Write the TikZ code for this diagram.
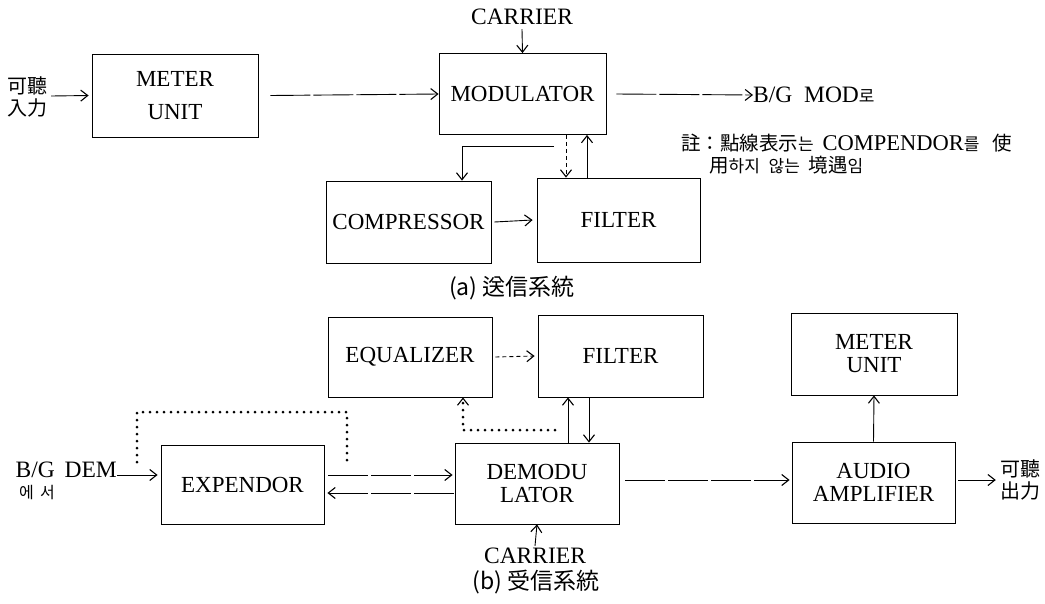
\documentclass[tikz,border=0pt]{standalone}
\usepackage{fontspec}
\setmainfont{Liberation Serif}
\newfontfamily\cjk{Noto Sans CJK KR}
\usetikzlibrary{arrows.meta,calc}
\newcommand\hgsm[1]{{\cjk\fontsize{17}{17}\selectfont #1}}
\tikzset{
 box/.style={draw, line width=0.8pt, inner sep=0pt, font=\fontsize{23}{23}\selectfont, align=center},
 tip/.style={-{Straight Barb[length=7pt,width=11pt,line width=1.1pt]}},
 arr/.style={line width=0.9pt, tip},
 longdash/.style={dash pattern=on 40pt off 3pt},
 shortdash/.style={dash pattern=on 4pt off 3pt},
 dotline/.style={line width=3pt, dash pattern=on 0pt off 7pt, line cap=round},
 lbl/.style={inner sep=0pt, font=\fontsize{23.5}{24}\selectfont},
 cjklbl/.style={inner sep=0pt, font=\cjk\fontsize{20}{22}\selectfont, align=center},
 captxt/.style={inner sep=0pt, font=\cjk\fontsize{23}{24}\selectfont},
}
\begin{document}
\begin{tikzpicture}[x=1pt,y=-1pt]
\useasboundingbox (0,0) rectangle (1045,603);
% ---------- (a) ----------
\node[box, minimum width=166pt, minimum height=83pt] (meter1) at (175,95.5) {METER\\[10pt]UNIT};
\node[box, minimum width=167pt, minimum height=81pt] (mod) at (522.5,94) {MODULATOR};
\node[box, minimum width=165pt, minimum height=82pt] (comp) at (408.5,222) {COMPRESSOR};
\node[box, minimum width=163pt, minimum height=84pt] (filt1) at (618.5,220) {FILTER};
\node[lbl] (car1) at (522,17) {CARRIER};
\node[cjklbl] (inl) at (28,97) {可聽\\入力};
\node[lbl, anchor=west] (bgmod) at (753,95) {B/G\ \ MOD\hgsm{로}};
\node[inner sep=0pt, anchor=west] (note1) at (681,143) {\cjk\fontsize{19.5}{20}\selectfont 註：點線表示\hgsm{는}\ \ {\rmfamily\fontsize{22.5}{20}\selectfont COMPENDOR}\hgsm{를}\ \ \ 使};
\node[inner sep=0pt, anchor=west] (note2) at (709,165) {\cjk\fontsize{19.5}{20}\selectfont 用\hgsm{하지}\ \ \hgsm{않는}\ \ 境遇\hgsm{임}};
\node[captxt] (capa) at (512,288) {(a)\ 送信系統};
\coordinate (c1) at (554,146);
\draw[arr] (car1.south) ++(0,4) -- (mod.north);
\draw[arr] (inl.east) ++(3,-1) -- ([xshift=-3pt]meter1.west);
\draw[arr, longdash] ([xshift=12pt]meter1.east) -- (mod.west);
\draw[arr, longdash] ([xshift=10pt]mod.east) -- (bgmod.west);
\draw[arr] (c1) -| (comp.north -| 462,0);
\draw[arr, shortdash] (mod.south -| 566,0) -- (filt1.north -| 566,0);
\draw[arr] (filt1.north -| 587,0) -- (mod.south -| 587,0);
\draw[arr] ([xshift=3pt]comp.east) -- ([xshift=-4pt]filt1.west);
% ---------- (b) ----------
\node[box, minimum width=164pt, minimum height=80pt] (eq) at (410,357) {EQUALIZER};
\node[box, minimum width=165pt, minimum height=82pt] (filt2) at (620.5,356) {FILTER};
\node[box, minimum width=166pt, minimum height=82pt] (meter2) at (874,354) {METER\\UNIT};
\node[box, minimum width=163pt, minimum height=79pt] (expd) at (242.5,484.5) {EXPENDOR};
\node[box, minimum width=164pt, minimum height=81pt] (demod) at (537,483.5) {DEMODU\\LATOR};
\node[box, minimum width=163pt, minimum height=81pt] (audio) at (873.5,482.5) {AUDIO\\AMPLIFIER};
\node[lbl, anchor=east] (bgdem) at (117,470) {B/G\ \,DEM};
\node[inner sep=0pt] (esseo) at (37,493) {\cjk\fontsize{16}{16}\selectfont 에\ \,서};
\node[cjklbl] (outl) at (1020,480) {可聽\\出力};
\node[lbl] (car2) at (535,556) {CARRIER};
\node[captxt] (capb) at (536,582) {(b)\ 受信系統};
\coordinate (d1) at (137,462);
\coordinate (d2) at (347,461);
\coordinate (d3) at (555,430);
\draw[arr, shortdash] ([xshift=3pt]eq.east) -- ([xshift=-3pt]filt2.west);
\draw[arr] (audio.north) -- (meter2.south);
\draw[arr] (demod.north -| 568,0) -- (filt2.south -| 568,0);
\draw[arr] (filt2.south -| 589,0) -- (demod.north -| 589,0);
\draw[dotline, tip] (d3) -| (eq.south -| 463,0);
\draw[dotline] (d1) -- (137,412) -- (347,412) -- (d2);
\draw[arr] (bgdem.east |- 0,475) -- ([xshift=-3pt]expd.west |- 0,475);
\draw[arr, longdash] ([xshift=4pt]expd.east |- 0,475) -- ([xshift=-2pt]demod.west |- 0,475);
\draw[arr, longdash] ([xshift=-1pt]demod.west |- 0,493) -- ([xshift=3pt]expd.east |- 0,493);
\draw[arr, longdash] ([xshift=6pt]demod.east |- 0,480) -- ([xshift=-2pt]audio.west |- 0,480);
\draw[arr] ([xshift=3pt]audio.east |- 0,480) -- ([xshift=-4pt]outl.west |- 0,480);
\draw[arr] (car2.north) ++(0,-2) -- (demod.south);
\end{tikzpicture}
\end{document}
